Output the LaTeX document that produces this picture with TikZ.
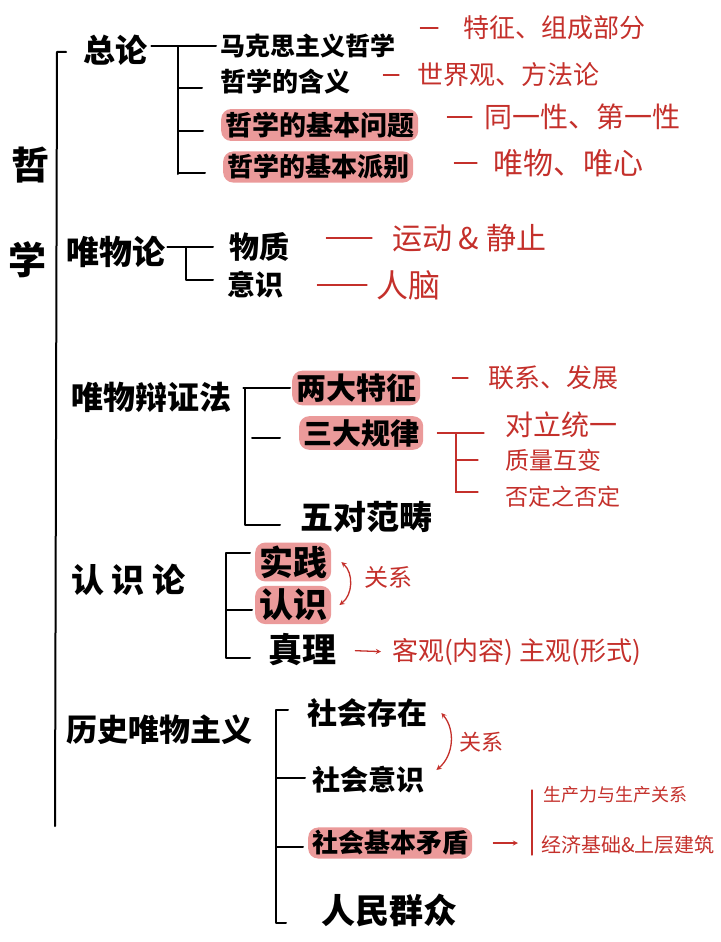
\documentclass[tikz,border=0pt]{standalone}
\usepackage{fontspec}
\setmainfont{Noto Sans CJK SC}
\usepackage{xcolor}
\usetikzlibrary{arrows, positioning}
\definecolor{pen}{HTML}{C4302B}
\definecolor{marker}{HTML}{E06464}
\newcommand\fsz[1]{\fontsize{#1}{#1}\selectfont}

\begin{document}
\begin{tikzpicture}[x=1pt, y=-1pt, >=stealth,
    ink/.style={anchor=west, inner sep=0pt, font=\bfseries\fsz{#1}}, ink/.default=26,
    note/.style={anchor=west, inner sep=0pt, text=pen, font=\fsz{#1}}, note/.default=26,
    hl/.style={fill=marker, fill opacity=0.65, text opacity=1, rounded corners=10pt, inner xsep=4pt, inner ysep=3pt},
    br/.style={line width=2pt, line cap=round, line join=round},
    pn/.style={draw=pen, line width=1.3pt, line cap=round}]
    \useasboundingbox (0,0) rectangle (720,942);

    \node [font=\bfseries\fsz{38}] (zhe) at (30,165) {哲};
    \node [font=\bfseries\fsz{38}] (xue) at (28,260) {学};
    \coordinate (mt) at (57,52);
    \coordinate (mb) at (55,826);
    \draw [br] ([xshift=9pt]mt) -- (mt) -- (mb);

    \node [ink=32] (zl) at (83,50) {总论};
    \node [ink=25] (zl1) at (220,46) {马克思主义哲学};
    \node [ink=26] (zl2) at (220,82) {哲学的含义};
    \node [ink=27, hl] (zl3) at (221,125) {哲学的基本问题};
    \node [ink=26, hl] (zl4) at (223,167) {哲学的基本派别};
    \coordinate (b1) at (178,0);
    \draw [br] ([xshift=4pt]zl.east |- zl1.west) -- ([xshift=-4pt]zl1.west);
    \draw [br] (zl1.west -| b1) -- ([yshift=-7pt]zl4.west -| b1);
    \foreach \n in {zl2,zl3,zl4}
        \draw [br] ([yshift=-6pt]\n.west -| b1) -- ([xshift=-18pt,yshift=-6pt]\n.west);

    \node [note=26] (zt1) at (463,28) {特征、组成部分};
    \node [note=26] (zt2) at (417,75) {世界观、方法论};
    \node [note=28] (zt3) at (484,117) {同一性、第一性};
    \node [note=30] (zt4) at (493,163) {唯物、唯心};
    \draw [pn, shorten <=25pt, shorten >=25pt] (zl1.east |- zt1.west) -- (zt1.west);
    \draw [pn, shorten <=33pt, shorten >=18pt] (zl2.east |- zt2.west) -- (zt2.west);
    \draw [pn, shorten <=29pt, shorten >=12pt] (zl3.east |- zt3.west) -- (zt3.west);
    \draw [pn, shorten <=41pt, shorten >=16pt] (zl4.east |- zt4.west) -- (zt4.west);

    \node [ink=33] (wl) at (66,252) {唯物论};
    \node [ink=30] (wl1) at (229,247) {物质};
    \node [ink=28] (wl2) at (227,285) {意识};
    \coordinate (b2) at (186,0);
    \draw [br] ([xshift=2pt]wl.east |- wl1.west) -- ([xshift=-16pt]wl1.west);
    \draw [br] (wl1.west -| b2) |- ([xshift=-14pt,yshift=5pt]wl2.west);
    \node [note=30] (wn1) at (392,238) {运动 \& 静止};
    \node [note=32] (wn2) at (376,285) {人脑};
    \draw [pn, shorten <=37pt, shorten >=20pt] (wl1.east |- wn1.west) -- (wn1.west);
    \draw [pn, shorten <=34pt, shorten >=9pt] (wl2.east |- wn2.west) -- (wn2.west);

    \node [ink=32] (bz) at (71,397) {唯物辩证法};
    \node [ink=30, hl] (bz1) at (292,388) {两大特征};
    \node [ink=29, hl] (bz2) at (299,433) {三大规律};
    \node [ink=33] (bz3) at (300,517) {五对范畴};
    \coordinate (b3) at (245,0);
    \draw [br] ([xshift=12pt]bz.east |- bz1.west) -- ([xshift=-2pt]bz1.west);
    \draw [br] (bz1.west -| b3) -- ([yshift=-8pt]bz3.west -| b3) -- ([xshift=-20pt,yshift=-8pt]bz3.west);
    \draw [br] ([xshift=7pt,yshift=-5pt]bz2.west -| b3) -- ([xshift=-19pt,yshift=-5pt]bz2.west);
    \node [note=26] (bn1) at (488,378) {联系、发展};
    \draw [pn, shorten <=32pt, shorten >=20pt] (bz1.east |- bn1.west) -- (bn1.west);
    \node [note=28] (gl1) at (505,425) {对立统一};
    \node [note=24] (gl2) at (505,460) {质量互变};
    \node [note=23] (gl3) at (505,497) {否定之否定};
    \coordinate (b4) at (456,0);
    \draw [pn] ([xshift=14pt]bz2.east) -- ([xshift=-21pt]bz2.east -| gl1.west);
    \draw [pn] (bz2.east -| b4) |- ([xshift=-27pt,yshift=5pt]gl3.west);
    \draw [pn] (gl2.west -| b4) -- ([xshift=-27pt]gl2.west);

    \node [ink=33] (rs) at (71,580) {认 识 论};
    \node [ink=34, hl] (rs1) at (255,562) {实践};
    \node [ink=34, hl] (rs2) at (255,605) {认识};
    \node [ink=34] (rs3) at (268,650) {真理};
    \coordinate (b5) at (226,0);
    \draw [br] ([xshift=-5pt,yshift=9pt]rs1.west) -| ([yshift=-8pt]rs3.west -| b5) -- ([xshift=-18pt,yshift=-8pt]rs3.west);
    \draw [br] ([yshift=-5pt]rs2.west -| b5) -- ([xshift=-3pt,yshift=-5pt]rs2.west);
    \draw [pn, <->] ([xshift=10pt]rs1.east) to [bend left=50] ([xshift=8pt]rs2.east);
    \node [note=24] (gx1) at (364,577) {关系};
    \node [note=26] (zn) at (392,652) {客观(内容)\ 主观(形式)};
    \draw [pn, ->, shorten <=19pt, shorten >=11pt] (rs3.east) -- (zn.west);

    \node [ink=31] (ls) at (66,730) {历史唯物主义};
    \node [ink=30] (ls1) at (307,713) {社会存在};
    \node [ink=28] (ls2) at (312,780) {社会意识};
    \node [ink=26, hl] (ls3) at (308,843) {社会基本矛盾};
    \node [ink=34] (ls4) at (321,910) {人民群众};
    \coordinate (b6) at (276,0);
    \draw [br] ([xshift=-19pt,yshift=3pt]ls1.west) -| ([yshift=-13pt]ls4.west -| b6) -- ([xshift=-35pt,yshift=-13pt]ls4.west);
    \draw [br] ([yshift=2pt]ls2.west -| b6) -- ([xshift=-7pt,yshift=2pt]ls2.west);
    \draw [br] ([yshift=-4pt]ls3.west -| b6) -- ([xshift=-5pt,yshift=-4pt]ls3.west);
    \draw [pn, <->] ([xshift=14pt]ls1.east) to [bend left=45] ([xshift=12pt,yshift=10pt]ls2.east);
    \node [note=22] (gx2) at (459,742) {关系};
    \node [note=18] (jn1) at (543,795) {生产力与生产关系};
    \node [note=20] (jn2) at (541,845) {经济基础\&上层建筑};
    \coordinate (b7) at (532,0);
    \draw [pn, ->, shorten <=21pt, shorten >=14pt] (ls3.east) -- (ls3.east -| b7);
    \draw [pn] ([yshift=5pt]jn1.west -| b7) -- ([yshift=-10pt]jn2.west -| b7);
\end{tikzpicture}
\end{document}
